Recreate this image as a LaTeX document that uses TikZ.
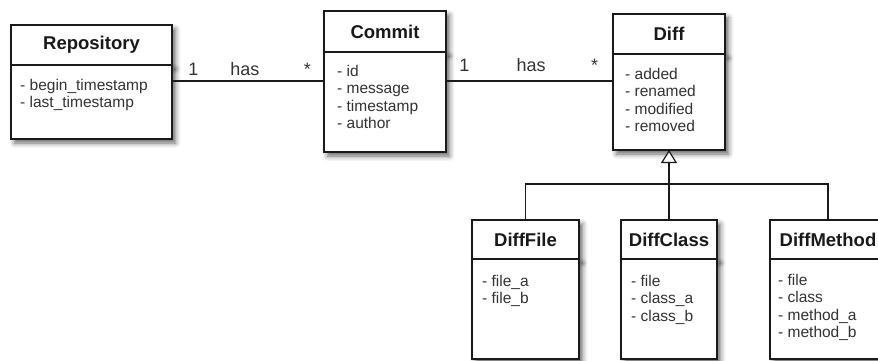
\documentclass[tikz,border=0pt]{standalone}
\usepackage{fontspec}
\setsansfont{Liberation Sans}
\usetikzlibrary{arrows.meta, positioning, calc, shadows.blur}
\definecolor{umlline}{HTML}{1A1A1A}
\definecolor{umltext}{HTML}{333333}
\tikzset{
  classhead/.style={
    rectangle, draw=umlline, line width=1.2pt, fill=white, anchor=north west,
    inner sep=0pt, outer sep=0pt, font=\sffamily\bfseries\fontsize{18.5}{20}\selectfont,
    text=black!90,
    blur shadow={shadow xshift=3.5pt, shadow yshift=-4pt, shadow blur radius=5pt, shadow opacity=60}
  },
  classbody/.style={
    rectangle, draw=umlline, line width=1.2pt, fill=white, anchor=north west,
    inner sep=0pt, outer sep=0pt,
    blur shadow={shadow xshift=3.5pt, shadow yshift=-4pt, shadow blur radius=5pt, shadow opacity=60}
  },
  attrs/.style={
    anchor=north west, inner sep=0pt, align=left, text=umltext,
    font=\sffamily\fontsize{15.5}{17.5}\selectfont
  },
  assoc/.style={line width=1.2pt, color=umlline},
  mult/.style={anchor=base, inner sep=0pt, text=umltext, font=\sffamily\fontsize{18}{20}\selectfont}
}

\begin{document}
\begin{tikzpicture}[x=1pt, y=-1pt,
  gen/.style={line width=1.2pt, color=umlline},
  inherit/.style={-{Triangle[open, length=13pt, width=16pt, fill=white]}, line width=1.2pt, color=umlline},
]
  \useasboundingbox (0,0) rectangle (878,361);
  \clip (0,0) rectangle (878,361);

  % Repository
  \node[classhead, minimum width=161pt, minimum height=40pt] (repo) at (11,25) {Repository};
  \node[classbody, minimum width=161pt, minimum height=74pt] (repobody) at (repo.south west) {};
  \node[attrs] (repoattr) at ([shift={(9,14)}]repo.south west) {- begin\_timestamp\\- last\_timestamp};

  % Commit
  \node[classhead, minimum width=122pt, minimum height=41pt] (commit) at (324,11) {Commit};
  \node[classbody, minimum width=122pt, minimum height=100pt] (commitbody) at (commit.south west) {};
  \node[attrs] (commitattr) at ([shift={(13,13)}]commit.south west) {- id\\- message\\- timestamp\\- author};

  % Diff
  \node[classhead, minimum width=112pt, minimum height=40pt] (diff) at (613,14) {Diff};
  \node[classbody, minimum width=112pt, minimum height=96pt] (diffbody) at (diff.south west) {};
  \node[attrs] (diffattr) at ([shift={(12,14)}]diff.south west) {- added\\- renamed\\- modified\\- removed};

  % Subclasses
  \node[classhead, minimum width=107pt, minimum height=39pt] (difffile) at (472,220) {DiffFile};
  \node[classbody, minimum width=107pt, minimum height=100pt] (difffilebody) at (difffile.south west) {};
  \node[attrs] (difffileattr) at ([shift={(10,16)}]difffile.south west) {- file\_a\\- file\_b};

  \node[classhead, minimum width=96pt, minimum height=39pt] (diffclass) at (621,220) {DiffClass};
  \node[classbody, minimum width=96pt, minimum height=100pt] (diffclassbody) at (diffclass.south west) {};
  \node[attrs] (diffclassattr) at ([shift={(10,16)}]diffclass.south west) {- file\\- class\_a\\- class\_b};

  \node[classhead, minimum width=116pt, minimum height=39pt] (diffmethod) at (770,220) {DiffMethod};
  \node[classbody, minimum width=116pt, minimum height=100pt] (diffmethodbody) at (diffmethod.south west) {};
  \node[attrs] (diffmethodattr) at ([shift={(8,15)}]diffmethod.south west) {- file\\- class\\- method\_a\\- method\_b};

  % Associations
  \draw[assoc] ([yshift=-16pt]repobody.north east) -- ([yshift=-16pt]repobody.north east -| commitbody.west)
    node[mult, pos=0.14, yshift=5pt]{1}
    node[mult, pos=0.48, yshift=5pt]{has}
    node[mult, pos=0.89, yshift=5pt]{*};
  \draw[assoc] ([yshift=-29pt]commitbody.north east) -- ([yshift=-29pt]commitbody.north east -| diffbody.west)
    node[mult, pos=0.11, yshift=9pt]{1}
    node[mult, pos=0.51, yshift=9pt]{has}
    node[mult, pos=0.89, yshift=9pt]{*};

  % Generalization
  \coordinate (bar) at ($(diffclass.north)+(0,-36)$);
  \draw[gen] (difffile.north) |- (bar) -| (diffmethod.north);
  \draw[inherit] (diffclass.north) -- (diffbody.south);

\end{tikzpicture}
\end{document}
